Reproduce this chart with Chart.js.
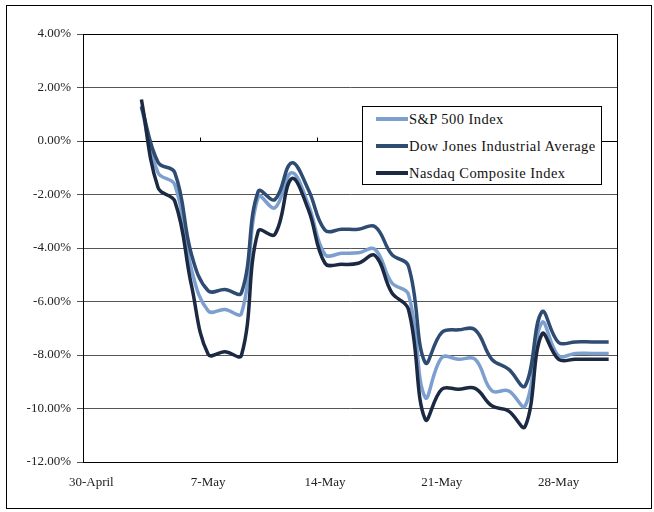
<!DOCTYPE html>
<html>
<head>
<meta charset="utf-8">
<script src="https://cdn.jsdelivr.net/npm/chart.js@4/dist/chart.umd.min.js"></script>
<style>
  body { margin: 0; background: #fff; }
  #wrap { position: relative; width: 654px; height: 512px; }
  #legend {
    position: absolute; left: 362px; top: 106px; width: 238px; height: 77px;
    border: 1px solid #000; background: #fff;
    font-family: "Liberation Serif", serif; font-size: 14.5px; letter-spacing: 0.45px; color: #111;
  }
  #legend .row { position: absolute; left: 0; height: 20px; line-height: 20px; white-space: nowrap; }
  #legend .swatch { position: absolute; left: 13px; top: 8px; width: 32px; height: 4px; }
  #legend .txt { position: absolute; left: 46px; top: 0; }
</style>
</head>
<body>
<div id="wrap">
  <canvas id="myChart" width="654" height="512"></canvas>
  <div id="legend"></div>
</div>
<script>
// dates on the axis, 30-April .. 31-May
var days = ['30-April'];
for (var i = 1; i <= 31; i++) days.push(i + '-May');
var tickLabels = ['30-April', '7-May', '14-May', '21-May', '28-May'];

var seriesNames = ['S&P 500 Index', 'Dow Jones Industrial Average', 'Nasdaq Composite Index'];
var seriesColors = ['#7c9fcf', '#2e4b72', '#1b2a42'];

// % change, first three days have no data
var sp500 = [null, null, null, 1.25, -1.19, -1.63, -4.8, -6.35, -6.3, -6.44, -2.09, -2.5, -1.19, -2.37, -4.24,
  -4.2, -4.18, -4.05, -5.3, -5.73, -9.58, -8.1, -8.16, -8.16, -9.34, -9.34, -9.9, -6.79, -8.03, -7.94, -7.94, -7.94];
var dow = [null, null, null, 1.3, -0.8, -1.18, -4.24, -5.6, -5.55, -5.67, -1.88, -2.19, -0.82, -1.81, -3.33,
  -3.3, -3.3, -3.2, -4.24, -4.67, -8.28, -7.16, -7.06, -7.06, -8.16, -8.53, -9.15, -6.39, -7.53, -7.51, -7.51, -7.51];
var nasdaq = [null, null, null, 1.55, -1.75, -2.25, -5.4, -7.97, -7.88, -8.0, -3.37, -3.49, -1.41, -2.56, -4.57,
  -4.61, -4.57, -4.28, -5.67, -6.29, -10.4, -9.28, -9.28, -9.25, -9.9, -10.09, -10.67, -7.22, -8.16, -8.16, -8.16, -8.16];

var seriesData = [sp500, dow, nasdaq];

Chart.defaults.font.family = '"Liberation Serif", serif';
Chart.defaults.font.size = 13;
Chart.defaults.color = '#222';

// outer frame, plot border and the zero axis tick marks
var framePlugin = {
  id: 'frame',
  beforeDraw: function(chart) {
    var c = chart.ctx;
    c.save();
    c.fillStyle = '#fff';
    c.fillRect(0, 0, chart.width, chart.height);
    c.strokeStyle = '#000';
    c.lineWidth = 1;
    c.strokeRect(6.5, 5.5, 645, 503);
    c.restore();
  },
  beforeDatasetsDraw: function(chart) {
    var c = chart.ctx, a = chart.chartArea, x = chart.scales.x, y = chart.scales.y;
    c.save();
    c.strokeStyle = '#000';
    c.lineWidth = 1;
    c.strokeRect(Math.round(a.left) + 0.5, Math.round(a.top) + 0.5, Math.round(a.right - a.left), Math.round(a.bottom - a.top));
    var y0 = Math.round(y.getPixelForValue(0)) + 0.5;
    c.beginPath();
    c.moveTo(a.left, y0); c.lineTo(a.right, y0);
    for (var k = 7; k < days.length; k += 7) {
      var px = Math.round((x.getPixelForValue(k - 1) + x.getPixelForValue(k)) / 2) + 0.5;
      c.moveTo(px, y0); c.lineTo(px, y0 - 4);
    }
    c.stroke();
    c.restore();
  }
};

var ctx = document.getElementById('myChart');
new Chart(ctx, {
  type: 'line',
  data: {
    labels: days,
    datasets: seriesData.map(function(d, i) {
      return {
        label: seriesNames[i],
        data: d,
        borderColor: seriesColors[i],
        backgroundColor: seriesColors[i],
        borderWidth: 3.5,
        pointRadius: 0,
        tension: 0.4,
        fill: false,
        order: 2 - i
      };
    })
  },
  options: {
    responsive: false,
    animation: false,
    events: [],
    layout: { padding: { left: 0, right: 37, top: 34, bottom: 10 } },
    plugins: { legend: { display: false }, tooltip: { enabled: false } },
    scales: {
      x: {
        type: 'category',
        offset: true,
        grid: { display: false, drawTicks: false },
        border: { display: false },
        ticks: {
          autoSkip: false,
          maxRotation: 0,
          padding: 13,
          callback: function(v, idx) {
            var lab = days[idx];
            return tickLabels.indexOf(lab) >= 0 ? lab : '';
          }
        },
        afterFit: function(s) { s.height = 40; }
      },
      y: {
        min: -12,
        max: 4,
        grid: { color: '#555', lineWidth: 1, tickLength: 6 },
        border: { display: true, color: '#000' },
        ticks: {
          stepSize: 2,
          padding: 6,
          callback: function(v) { return v.toFixed(2) + '%'; }
        },
        afterFit: function(s) { s.width = 83; }
      }
    }
  },
  plugins: [framePlugin]
});

// legend box inside the plot
var leg = document.getElementById('legend');
seriesNames.forEach(function(name, i) {
  var row = document.createElement('div');
  row.className = 'row';
  row.style.top = (2 + i * 27) + 'px';
  row.innerHTML = '<span class="swatch" style="background:' + seriesColors[i] + '"></span><span class="txt"></span>';
  row.querySelector('.txt').textContent = name;
  leg.appendChild(row);
});
</script>
</body>
</html>
